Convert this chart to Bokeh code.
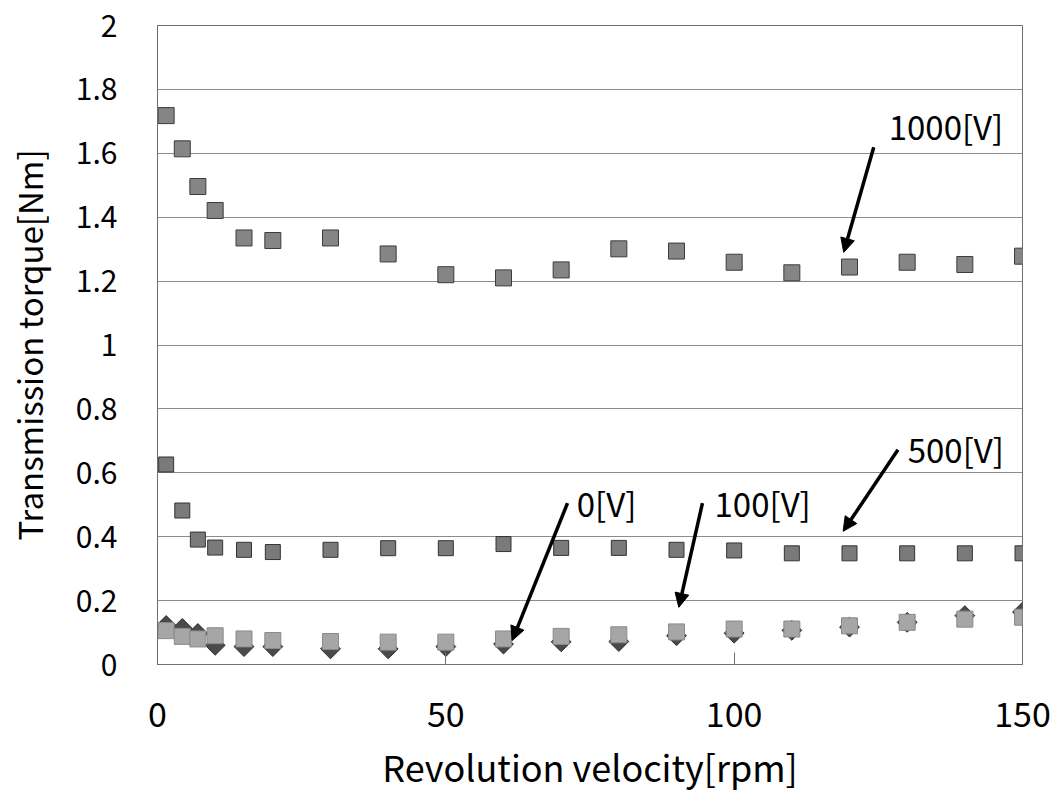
import numpy as np
from bokeh.plotting import figure
from bokeh.models import Range1d, FixedTicker, Arrow, NormalHead, ColumnDataSource, LabelSet
from bokeh.core.properties import value
from bokeh.embed import file_html
from bokeh.resources import INLINE

# ---- data ----
rpm = [1.5, 4.3, 7, 10, 15, 20, 30, 40, 50, 60, 70, 80, 90, 100, 110, 120, 130, 140, 150]
torque_1000V = [1.718, 1.614, 1.496, 1.421, 1.335, 1.327, 1.335, 1.285, 1.220, 1.210,
                1.235, 1.301, 1.294, 1.259, 1.226, 1.244, 1.259, 1.252, 1.278]
torque_500V = [0.626, 0.482, 0.391, 0.366, 0.359, 0.352, 0.359, 0.364, 0.364, 0.377,
               0.365, 0.365, 0.359, 0.357, 0.348, 0.348, 0.348, 0.348, 0.348]
torque_100V = [0.106, 0.088, 0.080, 0.090, 0.080, 0.075, 0.072, 0.070, 0.070, 0.080,
               0.088, 0.093, 0.102, 0.111, 0.111, 0.121, 0.132, 0.142, 0.148]
torque_0V = [0.122, 0.113, 0.097, 0.060, 0.056, 0.056, 0.049, 0.049, 0.056, 0.064,
             0.071, 0.072, 0.090, 0.098, 0.107, 0.117, 0.132, 0.153, 0.164]

x_ticks = [0, 50, 100, 150]
y_ticks = [0, 0.2, 0.4, 0.6, 0.8, 1.0, 1.2, 1.4, 1.6, 1.8, 2.0]
y_tick_labels = ["0", "0.2", "0.4", "0.6", "0.8", "1", "1.2", "1.4", "1.6", "1.8", "2"]

# annotation labels and arrows (data units)
ann_text = ["1000[V]", "500[V]", "0[V]", "100[V]"]
ann_text_x = [126.8, 130.1, 72.7, 96.6]
ann_text_y = [1.687, 0.676, 0.504, 0.504]
arrow_x_start = [124.2, 128.4, 71.1, 94.5]
arrow_y_start = [1.619, 0.672, 0.505, 0.505]
arrow_x_end = [119.0, 118.9, 61.5, 90.4]
arrow_y_end = [1.290, 0.417, 0.075, 0.179]

FONT = "Noto Sans CJK JP"

p = figure(width=1052, height=794, output_backend="svg", toolbar_location=None,
           x_range=Range1d(0, 150), y_range=Range1d(0, 2),
           min_border_left=157, min_border_right=30, min_border_top=25, min_border_bottom=125)

p.background_fill_color = "white"
p.border_fill_color = "white"
p.outline_line_color = "#6e6e6e"
p.outline_line_width = 1

# grid
p.xgrid.grid_line_color = None
p.ygrid.grid_line_color = "#8c8c8c"
p.ygrid.grid_line_width = 1

# axes
p.xaxis.ticker = FixedTicker(ticks=x_ticks)
p.yaxis.ticker = FixedTicker(ticks=y_ticks)
p.yaxis.major_label_overrides = {t: l for t, l in zip(y_ticks, y_tick_labels)}
for ax in (p.xaxis[0], p.yaxis[0]):
    ax.axis_line_color = "#6e6e6e"
    ax.major_tick_out = 0
    ax.minor_tick_out = 0
    ax.minor_tick_in = 0
    ax.major_tick_line_color = "#6e6e6e"
    ax.major_label_text_font = FONT
    ax.major_label_text_color = "black"
    ax.axis_label_text_font = FONT
    ax.axis_label_text_font_style = "normal"
    ax.axis_label_text_color = "black"

p.xaxis.major_tick_in = 12
p.yaxis.major_tick_in = 0
p.xaxis.major_label_text_font_size = "34px"
p.yaxis.major_label_text_font_size = "30px"
p.xaxis.major_label_standoff = 37
p.yaxis.major_label_standoff = 40
p.xaxis.axis_label = "Revolution velocity[rpm]"
p.yaxis.axis_label = "Transmission torque[Nm]"
p.xaxis.axis_label_text_font_size = "36px"
p.yaxis.axis_label_text_font_size = "33px"
p.xaxis.axis_label_standoff = 10
p.yaxis.axis_label_standoff = 20

# series
p.scatter(rpm, torque_1000V, marker="square", size=16, fill_color="#858585",
          line_color="#3c3c3c", line_width=1)
p.scatter(rpm, torque_500V, marker="square", size=15, fill_color="#7a7a7a",
          line_color="#333333", line_width=1)
p.scatter(rpm, torque_0V, marker="square", angle=np.pi / 4, size=14,
          fill_color="#4a4a4a", line_color="#2a2a2a", line_width=1)
p.scatter(rpm, torque_100V, marker="square", size=16, fill_color="#a6a6a6",
          line_color="#8a8a8a", line_width=1)

# annotations
src = ColumnDataSource(dict(x=ann_text_x, y=ann_text_y, t=ann_text))
p.add_layout(LabelSet(x="x", y="y", text="t", source=src, text_font=value(FONT),
                      text_font_size="33px", text_color="black",
                      text_align="left", text_baseline="middle"))
for xs, ys, xe, ye in zip(arrow_x_start, arrow_y_start, arrow_x_end, arrow_y_end):
    p.add_layout(Arrow(end=NormalHead(size=14, fill_color="black", line_color="black"),
                       x_start=xs, y_start=ys, x_end=xe, y_end=ye,
                       line_width=3.5, line_color="black"))

open("out.html", "w").write(file_html(p, INLINE))
